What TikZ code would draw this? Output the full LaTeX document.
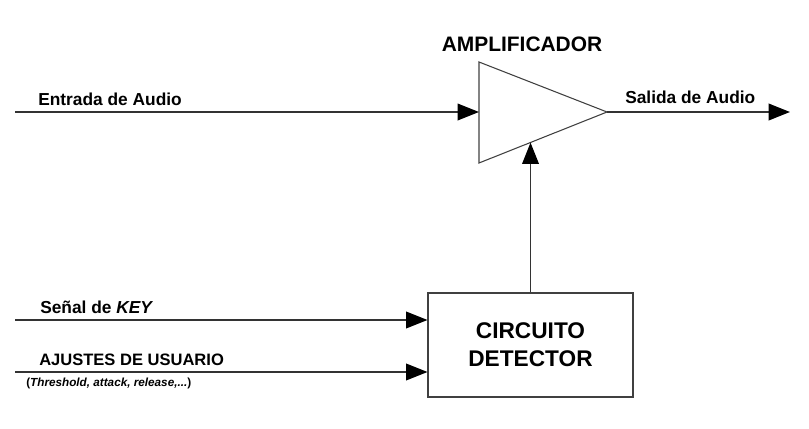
\documentclass[tikz,border=0pt]{standalone}
\usepackage{fontspec}
\setmainfont{Liberation Sans}
\usetikzlibrary{arrows.meta, calc}

\begin{document}
\begin{tikzpicture}[x=0.75pt, y=-0.75pt, font=\bfseries]
    \tikzset{
        signal/.style={line width=1.1pt, draw=black!80, -{Triangle[length=16pt, width=12.5pt, color=black]}},
        block/.style={draw=black!75, line width=0.8pt},
        lbl/.style={anchor=base west, inner sep=0pt, font=\fontsize{13}{15}\selectfont\bfseries}
    }
    \useasboundingbox (0,0) rectangle (809,428);
    % amplificador
    \coordinate (ampT) at (479,62);
    \coordinate (ampB) at (479,163);
    \coordinate (ampO) at (607,112);
    \coordinate (ampI) at (479,112);
    \coordinate (ctl) at ($(ampB)!0.4!(ampO)$);
    \draw[block, line join=miter] (ampT) -- (ampO) -- (ampB) -- cycle;
    \node[font=\fontsize{15.7}{18}\selectfont\bfseries] (amptitle) at (522,44) {AMPLIFICADOR};
    % circuito detector
    \node[block, minimum width=153.75pt, minimum height=78pt, align=center,
          font=\fontsize{17}{21}\selectfont\bfseries] (det) at (530.5,345) {CIRCUITO\\DETECTOR};
    % extremos libres
    \coordinate (inAudio)  at (15,112);
    \coordinate (outAudio) at (790,112);
    \coordinate (inKey)    at (15,320);
    \coordinate (inUser)   at (15,372);
    \draw[signal] (inAudio) -- (ampI);
    \draw[signal] (ampO) -- (outAudio);
    \draw[signal] (inKey) -- (det.west |- inKey);
    \draw[signal] (inUser) -- (det.west |- inUser);
    \draw[signal] (det.north) -- (det.north |- ctl);
    % etiquetas
    \node[lbl] (lblIn)  at (38,105)  {Entrada de Audio};
    \node[lbl] (lblOut) at (625,103) {Salida de Audio};
    \node[lbl] (lblKey) at (40,313)  {Señal de \textit{KEY}};
    \node[lbl, font=\fontsize{12.4}{14}\selectfont\bfseries] (lblUser) at (39,365) {AJUSTES DE USUARIO};
    \node[lbl, font=\fontsize{8.8}{10}\selectfont\bfseries] (lblParam) at (26,386)
        {(\textit{Threshold, attack, release,...})};
\end{tikzpicture}
\end{document}
